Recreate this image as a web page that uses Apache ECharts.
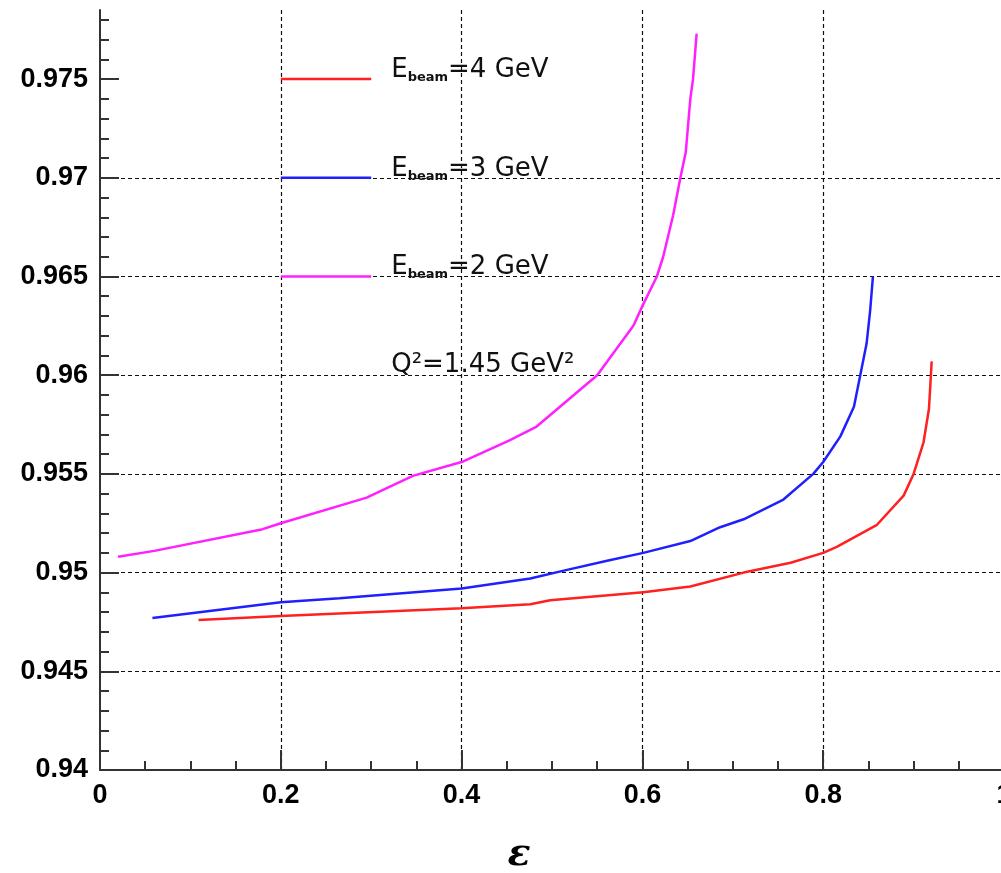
<!DOCTYPE html>
<html>
<head>
<meta charset="utf-8">
<script src="https://cdn.jsdelivr.net/npm/echarts@6/dist/echarts.min.js"></script>
<style>
  html, body { margin: 0; padding: 0; background: #fff; }
  #chart { width: 1001px; height: 873px; }
</style>
</head>
<body>
<div id="chart"></div>
<script>
// 曲线数据 (epsilon, 比值)
const beam2 = [
  [0.020, 0.9508], [0.060, 0.9511], [0.180, 0.9522], [0.200, 0.9525],
  [0.295, 0.9538], [0.346, 0.9549], [0.400, 0.9556], [0.453, 0.9567],
  [0.483, 0.9574], [0.550, 0.9600], [0.590, 0.9625], [0.601, 0.9636],
  [0.616, 0.9650], [0.623, 0.9660], [0.634, 0.9681], [0.642, 0.9700],
  [0.648, 0.9713], [0.653, 0.9740], [0.656, 0.9750], [0.660, 0.9773]
];
const beam3 = [
  [0.058, 0.9477], [0.200, 0.9485], [0.265, 0.9487], [0.400, 0.9492],
  [0.476, 0.9497], [0.513, 0.9501], [0.561, 0.9506], [0.601, 0.9510],
  [0.653, 0.9516], [0.686, 0.9523], [0.712, 0.9527], [0.756, 0.9537],
  [0.789, 0.9550], [0.800, 0.9556], [0.819, 0.9569], [0.834, 0.9584],
  [0.841, 0.9600], [0.848, 0.9616], [0.852, 0.9633], [0.855, 0.9650]
];
const beam4 = [
  [0.109, 0.9476], [0.200, 0.9478], [0.400, 0.9482], [0.476, 0.9484],
  [0.498, 0.9486], [0.601, 0.9490], [0.653, 0.9493], [0.712, 0.9500],
  [0.764, 0.9505], [0.800, 0.9510], [0.815, 0.9513], [0.859, 0.9524],
  [0.889, 0.9539], [0.900, 0.9550], [0.911, 0.9566], [0.917, 0.9583],
  [0.920, 0.9607]
];

// 图例线段
const legendX = [0.2, 0.3];
const legendY = [0.975, 0.97, 0.965];
const legendNames = ['4', '3', '2'];
const legendColors = ['#ff2020', '#2020ff', '#ff20ff'];
const noteText = 'Q²=1.45 GeV²';
const notePos = [0.3, 0.96];

// 坐标轴刻度
const yMajorTicks = [0.94, 0.945, 0.95, 0.955, 0.96, 0.965, 0.97, 0.975];
const yMinorTicks = [];
for (let i = 941; i <= 978; i++) {
  if (i % 5 !== 0) yMinorTicks.push(i / 1000);
}

const chart = echarts.init(document.getElementById('chart'));

const gridLine = { show: true, lineStyle: { color: '#111', width: 1.2, type: [4, 3] } };
const labelFont = { color: '#000', fontSize: 27, fontWeight: 'bold', fontFamily: '"Liberation Sans", Arial, sans-serif' };
const textFont = { fontSize: 26, fontFamily: 'DejaVu Sans', color: '#111' };

const legendSeries = legendY.map((y, i) => ({
  type: 'line',
  data: legendX.map(x => [x, y]),
  symbol: 'none',
  silent: true,
  lineStyle: { color: legendColors[i], width: 2.5 },
  endLabel: {
    show: true,
    distance: 20,
    offset: [0, -9],
    formatter: '{a|E}{b|beam}{a|=' + legendNames[i] + ' GeV}',
    rich: {
      a: textFont,
      b: { fontSize: 13, fontWeight: 'bold', fontFamily: 'DejaVu Sans', color: '#111', verticalAlign: 'bottom', padding: [15, 0, 0, 0] }
    }
  }
}));

const option = {
  animation: false,
  grid: { left: 100, right: -3, top: 10, bottom: 103, outerBoundsMode: 'none', containLabel: false },
  xAxis: {
    type: 'value',
    min: 0, max: 1, interval: 0.2,
    name: 'ε',
    nameLocation: 'middle',
    nameGap: 66,
    nameTextStyle: { fontSize: 38, fontStyle: 'italic', fontWeight: 'bold', fontFamily: 'DejaVu Serif', color: '#000', padding: [0, 66, 0, 0] },
    axisLine: { lineStyle: { color: '#333', width: 2 } },
    axisTick: { inside: true, length: 20, lineStyle: { color: '#333', width: 2 } },
    minorTick: { show: true, splitNumber: 4, length: 9, lineStyle: { color: '#333', width: 2 } },
    axisLabel: Object.assign({ margin: 12, formatter: v => String(+v.toFixed(1)) }, labelFont),
    splitLine: Object.assign({ showMinLine: false, showMaxLine: false }, gridLine)
  },
  yAxis: [{
    type: 'value',
    min: 0.94, max: 0.9785, interval: 0.005,
    axisLine: { lineStyle: { color: '#333', width: 2 } },
    axisTick: { inside: true, length: 19, customValues: yMajorTicks, lineStyle: { color: '#333', width: 2 } },
    axisLabel: Object.assign({ margin: 12, customValues: yMajorTicks, formatter: v => String(+v.toFixed(3)) }, labelFont),
    splitLine: Object.assign({ showMinLine: false, showMaxLine: false }, gridLine)
  }, {
    type: 'value',
    position: 'left',
    min: 0.94, max: 0.9785, interval: 0.005,
    axisLine: { show: false },
    axisTick: { inside: true, length: 9, customValues: yMinorTicks, lineStyle: { color: '#333', width: 2 } },
    axisLabel: { show: false },
    splitLine: { show: false }
  }],
  series: [
    { type: 'line', data: beam4, symbol: 'none', lineStyle: { color: legendColors[0], width: 2.5 } },
    { type: 'line', data: beam3, symbol: 'none', lineStyle: { color: legendColors[1], width: 2.5 } },
    { type: 'line', data: beam2, symbol: 'none', lineStyle: { color: legendColors[2], width: 2.5 } },
    ...legendSeries,
    {
      type: 'scatter',
      data: [notePos],
      symbolSize: 0,
      silent: true,
      itemStyle: { opacity: 1 },
      label: Object.assign({
        show: true,
        position: 'right',
        distance: 20,
        offset: [0, -10],
        opacity: 1,
        formatter: noteText
      }, textFont)
    }
  ]
};

chart.setOption(option);
</script>
</body>
</html>
